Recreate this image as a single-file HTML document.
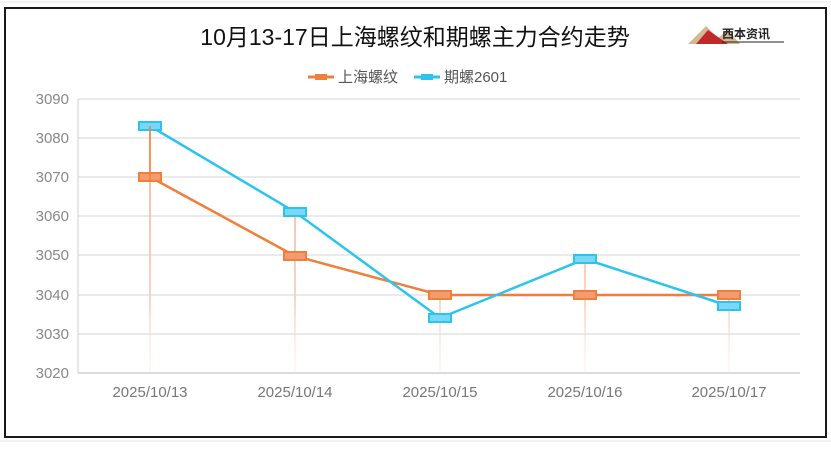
<!DOCTYPE html>
<html><head><meta charset="utf-8"><style>
body{margin:0;width:831px;height:444px;background:#fff;overflow:hidden;font-family:"Liberation Sans","Noto Sans CJK SC",sans-serif}
</style></head><body>
<svg width="831" height="444" xmlns="http://www.w3.org/2000/svg" font-family="Liberation Sans, Noto Sans CJK SC, sans-serif">
<defs>
<linearGradient id="fd" gradientUnits="userSpaceOnUse" x1="0" y1="120" x2="0" y2="373"><stop offset="0" stop-color="#f5a07a"/><stop offset="0.7" stop-color="#f8c6ae"/><stop offset="1" stop-color="#fde6dc" stop-opacity="0.3"/></linearGradient>
</defs>
<g stroke="#e6e6e6" stroke-width="1">
<line x1="0" y1="2" x2="831" y2="2"/><line x1="0" y1="441" x2="831" y2="441"/>
</g>
<rect x="5" y="8" width="821" height="429" fill="#fff" stroke="#1a1a1a" stroke-width="2"/>
<text x="415" y="45" font-size="23" text-anchor="middle" fill="#111">10月13-17日上海螺纹和期螺主力合约走势</text>
<g transform="translate(688,24)">
<polygon points="0,20 18,2 30,14 40,6 52,20" fill="#c8a878" opacity="0.8"/>
<polygon points="8,20 20,6 40,20" fill="#c0282a"/>
<text x="34" y="14" font-size="12" font-weight="bold" fill="#222">西本资讯</text>
<line x1="34" y1="18" x2="96" y2="18" stroke="#222"/>
</g>
<g font-size="15" fill="#555">
<line x1="308" y1="77" x2="334" y2="77" stroke="#f07f3a" stroke-width="3"/><rect x="315" y="74" width="12" height="6" fill="#f07f3a"/>
<text x="338" y="82">上海螺纹</text>
<line x1="414" y1="77" x2="440" y2="77" stroke="#2bc4ef" stroke-width="3"/><rect x="421" y="74" width="12" height="6" fill="#2bc4ef"/>
<text x="444" y="82">期螺2601</text>
</g>
<g stroke="#e4e4e4" stroke-width="1.5">
<line x1="78" y1="99" x2="800" y2="99"/><line x1="78" y1="138" x2="800" y2="138"/><line x1="78" y1="177" x2="800" y2="177"/><line x1="78" y1="216" x2="800" y2="216"/><line x1="78" y1="255" x2="800" y2="255"/><line x1="78" y1="295" x2="800" y2="295"/><line x1="78" y1="334" x2="800" y2="334"/>
</g>
<line x1="78" y1="373" x2="800" y2="373" stroke="#d0d0d0" stroke-width="1.5"/>
<line x1="78" y1="99" x2="78" y2="373" stroke="#d0d0d0" stroke-width="1"/>
<g font-size="15" fill="#888" text-anchor="end">
<text x="69" y="104">3090</text><text x="69" y="143">3080</text><text x="69" y="182">3070</text><text x="69" y="221">3060</text><text x="69" y="260">3050</text><text x="69" y="300">3040</text><text x="69" y="339">3030</text><text x="69" y="378">3020</text>
</g>
<g font-size="15" fill="#777" text-anchor="middle">
<text x="150" y="397">2025/10/13</text><text x="295" y="397">2025/10/14</text><text x="440" y="397">2025/10/15</text><text x="585" y="397">2025/10/16</text><text x="729" y="397">2025/10/17</text>
</g>
<g stroke="url(#fd)" stroke-width="1.5">
<line x1="150" y1="126" x2="150" y2="373"/><line x1="295" y1="212" x2="295" y2="373"/><line x1="440" y1="295" x2="440" y2="373"/><line x1="585" y1="259" x2="585" y2="373"/><line x1="729" y1="295" x2="729" y2="373"/>
</g>
<polyline points="150,177 295,256 440,295 585,295 729,295" fill="none" stroke="#f07f3a" stroke-width="2.5"/>
<polyline points="150,126 295,212 440,318 585,259 729,306" fill="none" stroke="#2bc4ef" stroke-width="2.5"/>
<g fill="#f59b72" stroke="#f07f3a" stroke-width="2">
<rect x="139" y="173" width="22" height="8"/><rect x="284" y="252" width="22" height="8"/><rect x="429" y="291" width="22" height="8"/><rect x="574" y="291" width="22" height="8"/><rect x="718" y="291" width="22" height="8"/>
</g>
<g fill="#7ad8f5" stroke="#2bc4ef" stroke-width="2">
<rect x="139" y="122" width="22" height="8"/><rect x="284" y="208" width="22" height="8"/><rect x="429" y="314" width="22" height="8"/><rect x="574" y="255" width="22" height="8"/><rect x="718" y="302" width="22" height="8"/>
</g>
<line x1="150" y1="126" x2="150" y2="181" stroke="#f07f3a" stroke-width="1.5"/>
</svg>
</body></html>
